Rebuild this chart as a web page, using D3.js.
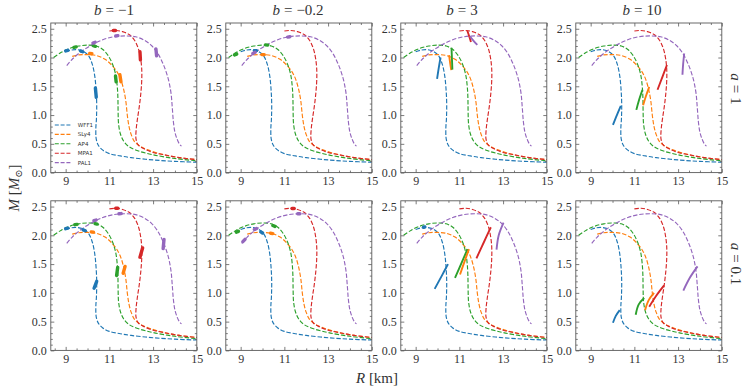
<!DOCTYPE html>
<html>
<head>
<meta charset="utf-8">
<script src="https://cdn.jsdelivr.net/npm/d3@7"></script>
<style>
  body { margin: 0; background: #fff; }
</style>
</head>
<body>
<script>
//Mass-radius curves in a 2x4 grid of panels

//Data

var eosNames = ["WFF1", "SLy4", "AP4", "MPA1", "PAL1"];
var eosColors = ["#1f77b4", "#ff7f0e", "#2ca02c", "#d62728", "#9467bd"];
var bLabels = ["\u22121", "\u22120.2", "3", "10"];
var aLabels = ["1", "0.1"];
var xTicks = [9, 11, 13, 15];
var yTicks = [0, 0.5, 1, 1.5, 2, 2.5];

//Dashed M-R curves, [R km, M Msun]
var curveWFF1 = [[9.0,2.10],[9.25,2.13],[9.55,2.135],[9.8,2.11],[10.05,2.03],[10.22,1.88],[10.33,1.68],[10.39,1.45],[10.42,1.2],[10.41,0.95],[10.38,0.75],[10.4,0.58],[10.5,0.47],[10.7,0.39],[11.0,0.33],[11.5,0.29],[12.0,0.26],[13.0,0.22],[14.0,0.195],[15.0,0.18]];
var curveSLy4 = [[9.3,2.02],[9.6,2.045],[10.0,2.05],[10.4,2.035],[10.8,1.97],[11.1,1.87],[11.35,1.75],[11.52,1.62],[11.65,1.45],[11.75,1.25],[11.82,1.0],[11.9,0.8],[12.0,0.66],[12.15,0.54],[12.4,0.46],[12.8,0.39],[13.5,0.31],[14.2,0.26],[15.0,0.225]];
var curveAP4 = [[8.45,2.0],[8.8,2.09],[9.2,2.16],[9.6,2.2],[10.0,2.215],[10.4,2.2],[10.7,2.14],[10.95,2.03],[11.15,1.88],[11.29,1.7],[11.36,1.5],[11.39,1.3],[11.4,1.05],[11.42,0.85],[11.5,0.68],[11.65,0.55],[11.9,0.45],[12.3,0.38],[13.0,0.31],[14.0,0.245],[15.0,0.205]];
var curveMPA1 = [[11.0,2.46],[11.3,2.47],[11.6,2.45],[11.9,2.4],[12.15,2.3],[12.33,2.15],[12.43,1.98],[12.48,1.8],[12.48,1.6],[12.44,1.38],[12.37,1.15],[12.28,0.92],[12.22,0.72],[12.22,0.58],[12.32,0.48],[12.6,0.41],[13.0,0.35],[13.5,0.31],[14.2,0.26],[15.0,0.225]];
var curvePAL1 = [[9.05,1.86],[9.3,1.97],[9.7,2.1],[10.2,2.22],[10.7,2.31],[11.2,2.36],[11.7,2.375],[12.2,2.36],[12.6,2.3],[12.95,2.2],[13.25,2.05],[13.5,1.85],[13.7,1.62],[13.82,1.38],[13.88,1.12],[13.93,0.88],[14.0,0.7],[14.1,0.58],[14.2,0.5],[14.3,0.46]];
var curves = [curveWFF1, curveSLy4, curveAP4, curveMPA1, curvePAL1];

//Solid segments for each panel, [eos index, points]
var segA1Bm1 = [
  [0, [[9.0,2.115],[9.1,2.125]]], [0, [[9.68,2.115],[9.78,2.1]]], [0, [[10.36,1.47],[10.4,1.31]]],
  [1, [[10.1,2.07],[10.2,2.065]]], [1, [[11.48,1.7],[11.53,1.58]]],
  [2, [[9.38,2.175],[9.48,2.185]]], [2, [[10.26,2.205],[10.36,2.195]]], [2, [[11.28,1.68],[11.31,1.58]]],
  [3, [[11.18,2.47],[11.28,2.47]]], [3, [[12.4,2.1],[12.42,1.96]]],
  [4, [[10.25,2.25],[10.35,2.265]]], [4, [[11.29,2.375],[11.39,2.38]]], [4, [[13.13,2.15],[13.16,2.03]]]
];
var segA1Bm02 = [
  [2, [[8.72,2.045],[8.82,2.06]]], [2, [[10.14,2.22],[10.24,2.215]]],
  [0, [[9.63,2.12],[9.73,2.12]]], [4, [[9.56,2.07],[9.66,2.09]]],
  [1, [[9.98,2.05],[10.08,2.05]]], [4, [[11.15,2.355],[11.25,2.36]]]
];
var segA1B3 = [
  [0, [[9.98,1.63],[10.07,1.85],[10.14,2.0]]],
  [1, [[10.53,2.04],[10.58,1.9],[10.63,1.78]]],
  [2, [[10.64,2.17],[10.66,1.98],[10.68,1.79]]],
  [3, [[11.36,2.47],[11.45,2.37],[11.53,2.27]]],
  [4, [[11.48,2.37],[11.65,2.29],[11.82,2.22]]]
];
var segA1B10 = [
  [0, [[10.02,0.83],[10.2,1.0],[10.38,1.16]]],
  [2, [[11.09,1.09],[11.22,1.27],[11.37,1.44]]],
  [1, [[11.4,1.17],[11.53,1.33],[11.68,1.49]]],
  [3, [[12.06,1.44],[12.28,1.66],[12.49,1.87]]],
  [4, [[13.2,1.7],[13.23,1.88],[13.28,2.07]]]
];
var segA01Bm1 = [
  [0, [[9.0,2.115],[9.1,2.125]]], [0, [[9.8,2.095],[9.9,2.08]]], [0, [[10.3,1.08],[10.42,1.2]]],
  [2, [[9.42,2.185],[9.52,2.19]]], [2, [[10.34,2.205],[10.44,2.195]]], [2, [[11.33,1.3],[11.38,1.44]]],
  [1, [[10.17,2.06],[10.27,2.055]]], [1, [[11.63,1.34],[11.72,1.46]]],
  [3, [[11.29,2.47],[11.39,2.47]]], [3, [[12.4,1.62],[12.52,1.78]]],
  [4, [[10.29,2.255],[10.39,2.265]]], [4, [[11.44,2.375],[11.54,2.378]]], [4, [[13.46,1.77],[13.5,1.93]]]
];
var segA01Bm02 = [
  [2, [[8.8,2.055],[8.9,2.07]]], [4, [[9.1,1.89],[9.2,1.93]]], [4, [[9.63,2.1],[9.73,2.12]]],
  [0, [[9.92,2.06],[10.0,2.04]]], [1, [[10.37,2.035],[10.47,2.03]]], [2, [[10.47,2.17],[10.57,2.155]]],
  [3, [[11.35,2.465],[11.45,2.465]]], [4, [[11.61,2.375],[11.71,2.375]]]
];
var segA01B3 = [
  [0, [[9.36,2.14],[9.42,2.145]]],
  [0, [[9.87,1.07],[10.2,1.3],[10.48,1.5]]],
  [2, [[10.8,1.26],[11.1,1.52],[11.37,1.76]]],
  [1, [[11.03,1.32],[11.25,1.56],[11.44,1.76]]],
  [3, [[11.78,1.6],[12.12,1.88],[12.44,2.14]]],
  [4, [[12.7,1.75],[12.8,2.0],[13.02,2.22]]]
];
var segA01B10 = [
  [0, [[10.02,0.48],[10.15,0.6],[10.33,0.7]]],
  [2, [[11.06,0.62],[11.2,0.8],[11.45,0.91]]],
  [1, [[11.49,0.7],[11.65,0.87],[11.9,1.0]]],
  [3, [[11.68,0.76],[12.0,0.95],[12.36,1.13]]],
  [4, [[13.24,1.04],[13.55,1.27],[13.89,1.46]]]
];

var panels = [
  [segA1Bm1, segA1Bm02, segA1B3, segA1B10],
  [segA01Bm1, segA01Bm02, segA01B3, segA01B10]
];

//Layout

var svgwidth = 748;
var svgheight = 390;
var left0 = 50.8, top0 = 23;
var colStep = 175, rowStep = 177.8;
var panelW = 146, panelH = 149.6;
var titleX = [114, 298, 462, 642];
var frameColor = "#5a5a5a";
var textColor = "#333";

var svg = d3.select("body")
  .append("svg")
  .attr("width", svgwidth)
  .attr("height", svgheight)
  .style("font-family", "'Liberation Serif', 'DejaVu Serif', serif");

var x = d3.scaleLinear().domain([8.32, 15]).range([0, panelW]);
var y = d3.scaleLinear().domain([0, 2.6]).range([panelH, 0]);

var xMinor = d3.range(8.5, 15.01, 0.5).filter(v => xTicks.indexOf(v) < 0);
var yMinor = d3.range(0.1, 2.6, 0.1).filter(v => Math.abs(v * 2 - Math.round(v * 2)) > 1e-6);

var line = d3.line()
  .x(d => x(d[0]))
  .y(d => y(d[1]))
  .curve(d3.curveCatmullRom.alpha(0.5));

function styleAxis(g) {
  g.select(".domain").remove();
  g.selectAll(".tick line").attr("stroke", frameColor).attr("stroke-width", 0.8);
  g.selectAll(".tick text")
    .attr("fill", textColor)
    .style("font-size", "12px")
    .style("font-family", "'Liberation Serif', serif");
}

panels.forEach(function(row, r) {
  row.forEach(function(segs, c) {
    var g = svg.append("g")
      .attr("transform", `translate(${left0 + c * colStep}, ${top0 + r * rowStep})`);

    var clipId = "clip" + r + c;
    g.append("clipPath").attr("id", clipId)
      .append("rect").attr("width", panelW).attr("height", panelH);

    var plot = g.append("g").attr("clip-path", `url(#${clipId})`);

    //Dashed curves
    plot.selectAll("path.eos")
      .data(curves)
      .enter()
      .append("path")
      .attr("class", "eos")
      .attr("d", line)
      .attr("fill", "none")
      .attr("stroke", (d, i) => eosColors[i])
      .attr("stroke-width", 1.15)
      .attr("stroke-dasharray", "4.4,1.9");

    //Solid segments
    plot.selectAll("path.seg")
      .data(segs)
      .enter()
      .append("path")
      .attr("class", "seg")
      .attr("d", d => line(d[1]))
      .attr("fill", "none")
      .attr("stroke", d => eosColors[d[0]])
      .attr("stroke-width", d => d[1].length == 2 ? 3.4 : 1.9)
      .attr("stroke-linecap", d => d[1].length == 2 ? "round" : "butt");

    //Axes, ticks pointing in
    g.append("g").attr("transform", `translate(0, ${panelH})`)
      .call(d3.axisBottom(x).tickValues(xTicks).tickSize(-3.5).tickPadding(4).tickFormat(d3.format("d")))
      .call(styleAxis);
    g.append("g").attr("transform", `translate(0, ${panelH})`)
      .call(d3.axisBottom(x).tickValues(xMinor).tickSize(-2).tickFormat(""))
      .call(styleAxis);
    g.append("g")
      .call(d3.axisTop(x).tickValues(xTicks).tickSize(-3.5).tickFormat(""))
      .call(styleAxis);
    g.append("g")
      .call(d3.axisTop(x).tickValues(xMinor).tickSize(-2).tickFormat(""))
      .call(styleAxis);
    g.append("g")
      .call(d3.axisLeft(y).tickValues(yTicks).tickSize(-3.5).tickPadding(4).tickFormat(d3.format(".1f")))
      .call(styleAxis);
    g.append("g")
      .call(d3.axisLeft(y).tickValues(yMinor).tickSize(-2).tickFormat(""))
      .call(styleAxis);
    g.append("g").attr("transform", `translate(${panelW}, 0)`)
      .call(d3.axisRight(y).tickValues(yTicks).tickSize(-3.5).tickFormat(""))
      .call(styleAxis);
    g.append("g").attr("transform", `translate(${panelW}, 0)`)
      .call(d3.axisRight(y).tickValues(yMinor).tickSize(-2).tickFormat(""))
      .call(styleAxis);

    g.append("rect")
      .attr("width", panelW)
      .attr("height", panelH)
      .attr("fill", "none")
      .attr("stroke", frameColor)
      .attr("stroke-width", 0.9);

    //Legend in the first panel
    if (r == 0 && c == 0) {
      var legend = g.append("g").attr("transform", "translate(4, 102)");
      var item = legend.selectAll("g")
        .data(eosNames)
        .enter()
        .append("g")
        .attr("transform", (d, i) => `translate(0, ${i * 9.4})`);
      item.append("line")
        .attr("x1", 0).attr("x2", 17)
        .attr("stroke", (d, i) => eosColors[i])
        .attr("stroke-width", 1.1)
        .attr("stroke-dasharray", "4,1.8");
      item.append("text")
        .attr("x", 23)
        .attr("dy", "0.35em")
        .style("font-family", "'DejaVu Sans', sans-serif")
        .style("font-size", "5.5px")
        .attr("fill", textColor)
        .text(d => d);
    }
  });
});

//Column titles
bLabels.forEach(function(b, c) {
  var t = svg.append("text")
    .attr("x", titleX[c])
    .attr("y", 15)
    .attr("text-anchor", "middle")
    .attr("fill", textColor)
    .style("font-size", "15px");
  t.append("tspan").style("font-style", "italic").text("b");
  t.append("tspan").attr("dx", 4).text("=");
  t.append("tspan").attr("dx", 4).text(b);
});

//Row labels on the right
var rowLabelY = [89, 264];
aLabels.forEach(function(a, r) {
  var t = svg.append("text")
    .attr("transform", `translate(731, ${rowLabelY[r]}) rotate(90)`)
    .attr("text-anchor", "middle")
    .attr("fill", textColor)
    .style("font-size", "15px");
  t.append("tspan").style("font-style", "italic").text("a");
  t.append("tspan").attr("dx", 4).text("=");
  t.append("tspan").attr("dx", 4).text(a);
});

//Axis labels
var ylab = svg.append("text")
  .attr("transform", "translate(19, 188) rotate(-90)")
  .attr("text-anchor", "middle")
  .attr("fill", textColor)
  .style("font-size", "15px");
ylab.append("tspan").style("font-style", "italic").text("M");
ylab.append("tspan").text(" [");
ylab.append("tspan").style("font-style", "italic").text("M");
ylab.append("tspan").attr("dy", 3).style("font-size", "10px").style("font-family", "'DejaVu Serif', serif").text("\u2299");
ylab.append("tspan").attr("dy", -3).text("]");

var xlab = svg.append("text")
  .attr("x", 377)
  .attr("y", 383)
  .attr("text-anchor", "middle")
  .attr("fill", textColor)
  .style("font-size", "15px");
xlab.append("tspan").style("font-style", "italic").text("R");
xlab.append("tspan").text(" [km]");
</script>
</body>
</html>
